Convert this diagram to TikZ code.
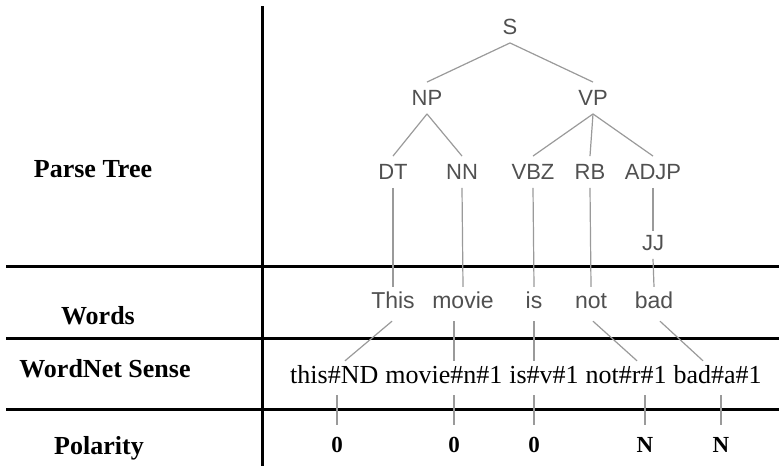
\documentclass[tikz,border=0pt]{standalone}
\usepackage{fontspec}
\setmainfont{Liberation Serif}
\newfontfamily\treefont{Liberation Sans}
\usetikzlibrary{calc}
\definecolor{treetext}{HTML}{505050}
\definecolor{treeline}{HTML}{9A9A9A}
\tikzset{
  rowlabel/.style={font=\fontsize{26}{30}\selectfont\bfseries, inner sep=0pt, anchor=base},
  tnode/.style={font=\treefont\fontsize{22}{26}\selectfont, text=treetext, inner xsep=2pt, inner ysep=8pt, text height=15.5pt, text depth=0pt},
  wnode/.style={font=\treefont\fontsize{23}{27}\selectfont, text=treetext, inner xsep=2pt, inner ysep=8pt, text height=13pt, text depth=5pt},
  snode/.style={font=\fontsize{26}{30}\selectfont, inner xsep=0pt, inner ysep=7pt, text height=15pt, text depth=5pt, anchor=base west},
  pnode/.style={font=\fontsize{23}{27}\selectfont\bfseries, inner xsep=1pt, inner ysep=12pt, text height=15pt, text depth=0pt},
  tline/.style={draw=treeline, line width=1.2pt},
  rule/.style={draw=black, line width=3pt}
}
\begin{document}
\begin{tikzpicture}[x=1pt,y=-1pt]
\useasboundingbox (0,0) rectangle (779,466);
% table rules
\coordinate (vtop) at (262,6);
\coordinate (vbot) at (262,466);
\draw[rule] (vtop) -- (vbot);
\coordinate (h1l) at (6,266); \coordinate (h1r) at (779,266);
\coordinate (h2l) at (6,338); \coordinate (h2r) at (779,338);
\coordinate (h3l) at (6,409); \coordinate (h3r) at (779,409);
\draw[rule] (h1l) -- (h1r);
\draw[rule] (h2l) -- (h2r);
\draw[rule] (h3l) -- (h3r);
% row labels
\node[rowlabel] (lparse) at (93,177) {Parse Tree};
\node[rowlabel] (lwords) at (98,324) {Words};
\node[rowlabel] (lsense) at (105,377) {WordNet Sense};
\node[rowlabel] (lpol) at (99,454) {Polarity};
% parse tree
\node[tnode] (S) at (510,27) {S};
\node[tnode] (NP) at (427,98) {NP};
\node[tnode] (VP) at (593,98) {VP};
\node[tnode] (DT) at (393,172) {DT};
\node[tnode] (NN) at (462,172) {NN};
\node[tnode] (VBZ) at (533,172) {VBZ};
\node[tnode] (RB) at (590,172) {RB};
\node[tnode] (ADJP) at (653,172) {ADJP};
\node[tnode] (JJ) at (653,243) {JJ};
\draw[tline] (S.south) -- (NP.north);
\draw[tline] (S.south) -- (VP.north);
\draw[tline] (NP.south) -- (DT.north);
\draw[tline] (NP.south) -- (NN.north);
\draw[tline] (VP.south) -- (VBZ.north);
\draw[tline] (VP.south) -- (RB.north);
\draw[tline] (VP.south) -- (ADJP.north);
\draw[tline] (ADJP.south) -- ([yshift=-4pt]JJ.north);
% words
\node[wnode] (wthis) at (393,304) {This};
\node[wnode] (wmovie) at (463,304) {movie};
\node[wnode] (wis) at (534,304) {is};
\node[wnode] (wnot) at (591,304) {not};
\node[wnode] (wbad) at (654,304) {bad};
\draw[tline] (DT.south) -- (wthis.north);
\draw[tline] (NN.south) -- (wmovie.north);
\draw[tline] (VBZ.south) -- (wis.north);
\draw[tline] (RB.south) -- (wnot.north);
\draw[tline] (JJ.south) -- (wbad.north);
% senses
\node[snode] (s1) at (290,383) {this\#ND};
\node[snode] (s2) at ([xshift=6.6pt]s1.base east) {movie\#n\#1};
\node[snode] (s3) at ([xshift=6.6pt]s2.base east) {is\#v\#1};
\node[snode] (s4) at ([xshift=6.6pt]s3.base east) {not\#r\#1};
\node[snode] (s5) at ([xshift=6.6pt]s4.base east) {bad\#a\#1};
% polarity
\node[pnode] (p1) at (337,445) {0};
\node[pnode] (p2) at (454,445) {0};
\node[pnode] (p3) at (534,445) {0};
\node[pnode] (p4) at (645,445) {N};
\node[pnode] (p5) at (721,445) {N};
% word -> sense
\path (p1 |- s1.north) ++(8pt,0) coordinate (e1);
\path (p4 |- s4.north) ++(-8pt,0) coordinate (e4);
\path (p5 |- s5.north) ++(-18pt,0) coordinate (e5);
\draw[tline] ([xshift=-1pt]wthis.south) -- (e1);
\draw[tline] (p2 |- wmovie.south) -- (p2 |- s2.north);
\draw[tline] (wis.south) -- (p3 |- s3.north);
\draw[tline] ([xshift=2pt]wnot.south) -- (e4);
\draw[tline] ([xshift=6pt]wbad.south) -- (e5);
% sense -> polarity
\draw[tline] (p1 |- s1.south) -- (p1.north);
\draw[tline] (p2 |- s2.south) -- (p2.north);
\draw[tline] (p3 |- s3.south) -- (p3.north);
\draw[tline] (p4 |- s4.south) -- (p4.north);
\draw[tline] (p5 |- s5.south) -- (p5.north);
\end{tikzpicture}
\end{document}
